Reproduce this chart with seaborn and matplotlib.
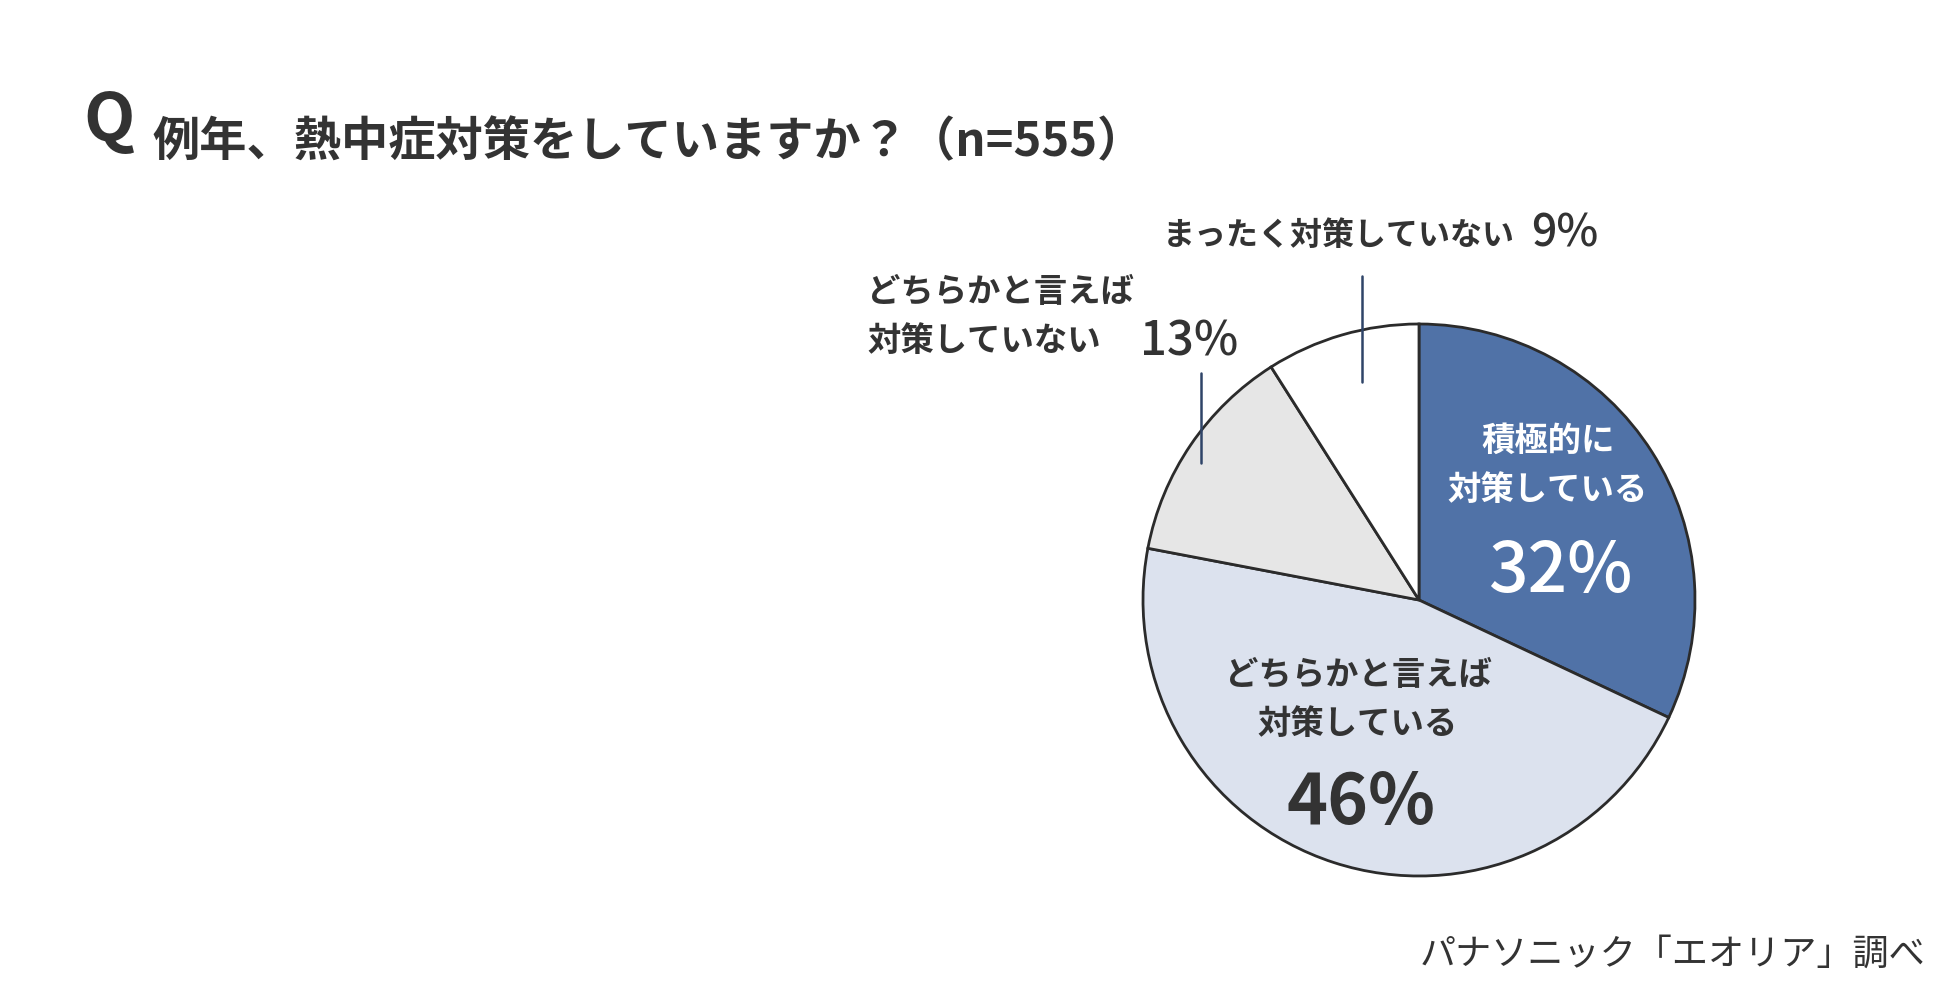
import matplotlib
matplotlib.use('Agg')
import matplotlib.pyplot as plt
import seaborn as sns
from matplotlib.lines import Line2D

# データ
labels = ['積極的に\n対策している', 'どちらかと言えば\n対策している',
          'どちらかと言えば\n対策していない', 'まったく対策していない']
values = [32, 46, 13, 9]
pct_labels = ['32%', '46%', '13%', '9%']
colors = ['#5072a7', '#dce2ee', '#e6e6e6', '#ffffff']

title = '例年、熱中症対策をしていますか？（n=555）'
source = 'パナソニック「エオリア」調べ'

sns.set_theme(style='white')
plt.rcParams['font.family'] = ['Noto Sans CJK JP', 'DejaVu Sans']

W, H = 1950, 990
fig = plt.figure(figsize=(W / 100, H / 100), dpi=100)
fig.patch.set_facecolor('white')

# 円グラフ (中心 1419,600 半径 276 px)
cx, cy, r = 1419, 600, 276
ax = fig.add_axes([(cx - r) / W, (H - cy - r) / H, 2 * r / W, 2 * r / H])
ax.pie(values, colors=colors, startangle=90, counterclock=False,
       wedgeprops=dict(edgecolor='#2b2b2b', linewidth=2))
ax.set_xlim(-1, 1)
ax.set_ylim(-1, 1)
ax.set_aspect('equal')
ax.axis('off')

dark = '#333333'

def ftext(x, y, s, **kw):
    fig.text(x / W, 1 - y / H, s, **kw)

# タイトル
ftext(83, 121, 'Q', fontsize=48, weight='bold', color=dark, va='center', ha='left')
ftext(152, 142, title, fontsize=34, weight='bold', color=dark, va='center', ha='left')

# 積極的に対策している
ftext(1548, 466, labels[0], fontsize=24, weight='bold', color='white',
      va='center', ha='center', linespacing=1.65)
ftext(1560, 572, pct_labels[0], fontsize=50, weight='medium', color='white',
      va='center', ha='center')

# どちらかと言えば対策している
ftext(1358, 700, labels[1], fontsize=24, weight='bold', color=dark,
      va='center', ha='center', linespacing=1.65)
ftext(1361, 804, pct_labels[1], fontsize=50, weight='bold', color=dark,
      va='center', ha='center')

# どちらかと言えば対策していない
ftext(867, 317, labels[2], fontsize=24, weight='bold', color=dark,
      va='center', ha='left', linespacing=1.65)
ftext(1140, 342, pct_labels[2], fontsize=34, weight='medium', color=dark,
      va='center', ha='left')

# まったく対策していない
ftext(1163, 236, labels[3], fontsize=23, weight='bold', color=dark,
      va='center', ha='left')
ftext(1598, 234, pct_labels[3], fontsize=32, weight='medium', color=dark,
      va='center', ha='right')

# 引き出し線
for x, y0, y1 in [(1362, 276, 382), (1201, 373, 463)]:
    fig.add_artist(Line2D([x / W, x / W], [1 - y0 / H, 1 - y1 / H],
                          color='#2f4468', linewidth=1.8))

# 出典
ftext(1925, 955, source, fontsize=26, color=dark, va='center', ha='right')

fig.savefig('out.png', dpi=100, facecolor='white')
